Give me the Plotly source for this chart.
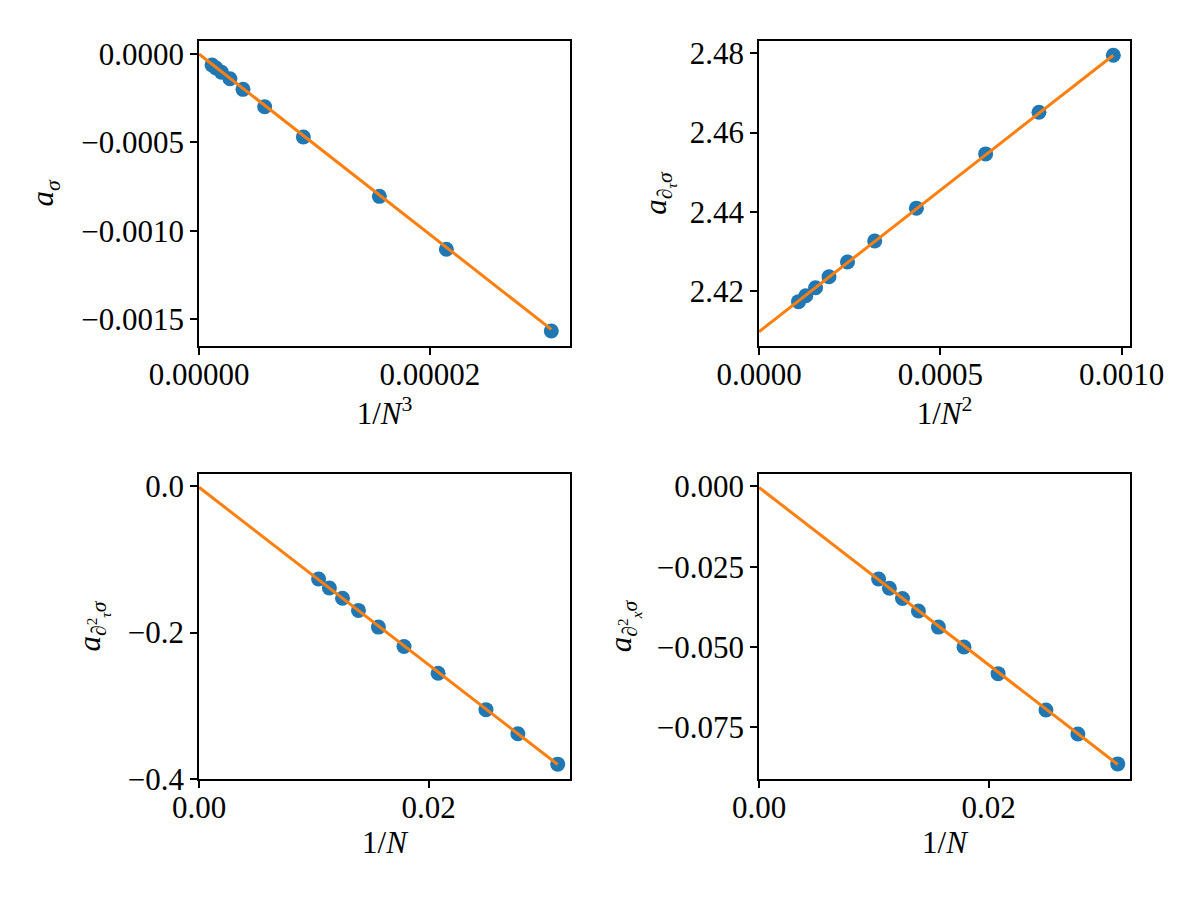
import plotly.graph_objects as go
from plotly.subplots import make_subplots

# ---- data ----
x_inv_N3 = [3.052e-5, 2.143e-5, 1.5625e-5, 9.04e-6, 5.69e-6, 3.81e-6, 2.68e-6, 1.95e-6, 1.47e-6, 1.13e-6]
y_sigma = [-0.001566, -0.001104, -0.000805, -0.000469, -0.000298, -0.000200, -0.000140, -0.000103, -0.000079, -0.000062]
fit_x_N3 = [0.0, 3.052e-5]
fit_y_sigma = [0.0, -0.001557]

x_inv_N2 = [0.000977, 0.000772, 0.000625, 0.000434, 0.000319, 0.000244, 0.000193, 0.000156, 0.000129, 0.000109]
y_dtau = [2.4795, 2.4651, 2.4546, 2.4409, 2.4326, 2.4273, 2.4236, 2.4208, 2.4188, 2.4173]
fit_x_N2 = [0.0, 0.000977]
fit_y_dtau = [2.4097, 2.4795]

x_inv_N = [0.03125, 0.02778, 0.025, 0.02083, 0.01786, 0.01563, 0.01389, 0.0125, 0.01136, 0.01042]
y_dtau2 = [-0.380, -0.3383, -0.3054, -0.2556, -0.2190, -0.1925, -0.1696, -0.1531, -0.1390, -0.1266]
fit_x_N = [0.0, 0.03125]
fit_y_dtau2 = [-0.0012, -0.3805]

y_dx2 = [-0.0864, -0.0771, -0.0696, -0.0583, -0.0500, -0.0438, -0.0388, -0.0349, -0.0317, -0.0288]
fit_y_dx2 = [-0.0003, -0.0866]

BLUE = "#1f77b4"
ORANGE = "#ff7f0e"
FONT = "Liberation Serif"
FS = 31

fig = make_subplots(rows=2, cols=2)

panels = [
    (1, 1, x_inv_N3, y_sigma, fit_x_N3, fit_y_sigma),
    (1, 2, x_inv_N2, y_dtau, fit_x_N2, fit_y_dtau),
    (2, 1, x_inv_N, y_dtau2, fit_x_N, fit_y_dtau2),
    (2, 2, x_inv_N, y_dx2, fit_x_N, fit_y_dx2),
]
for r, c, xs, ys, fx, fy in panels:
    fig.add_trace(go.Scatter(x=xs, y=ys, mode="markers",
                             marker=dict(color=BLUE, size=15, line=dict(width=0)),
                             showlegend=False), row=r, col=c)
    fig.add_trace(go.Scatter(x=fx, y=fy, mode="lines",
                             line=dict(color=ORANGE, width=3),
                             showlegend=False), row=r, col=c)

common = dict(showline=True, mirror=True, linecolor="black", linewidth=1.5,
              ticks="outside", ticklen=7, tickwidth=1.5, tickcolor="black",
              showgrid=False, zeroline=False, automargin=False,
              tickfont=dict(family=FONT, size=FS, color="black"),
              title_font=dict(family=FONT, size=FS, color="black"))

xd_left = [199 / 1200, 570 / 1200]
xd_right = [759 / 1200, 1130 / 1200]
yd_top = [1 - 346 / 900, 1 - 41 / 900]
yd_bot = [1 - 779 / 900, 1 - 474 / 900]

fig.update_xaxes(common)
fig.update_yaxes(common)
fig.update_xaxes(ticklabelstandoff=-7)

# top-left
fig.update_xaxes(domain=xd_left, range=[0, 3.214e-5], tickvals=[0, 2e-5],
                 tickformat=".5f", title=dict(text="1/<i>N</i><sup>3</sup>", standoff=0), row=1, col=1)
fig.update_yaxes(domain=yd_top, range=[-0.001651, 0.0000735], dtick=0.0005, tickformat=".4f",
                 title=dict(text="<i>a</i><sub><i>σ</i></sub>", standoff=18), row=1, col=1)
# top-right
fig.update_xaxes(domain=xd_right, range=[0, 0.001023], dtick=0.0005, tickformat=".4f",
                 title=dict(text="1/<i>N</i><sup>2</sup>", standoff=0), row=1, col=2)
fig.update_yaxes(domain=yd_top, range=[2.4061, 2.4831], dtick=0.02, tickformat=".2f",
                 title=dict(text="<i>a</i><sub>∂<sub><i>τ</i></sub><i>σ</i></sub>", standoff=14), row=1, col=2)
# bottom-left
fig.update_xaxes(domain=xd_left, range=[0, 0.03232], dtick=0.02, tickformat=".2f",
                 title=dict(text="1/<i>N</i>", standoff=0), row=2, col=1)
fig.update_yaxes(domain=yd_bot, range=[-0.4003, 0.017], dtick=0.2, tickformat=".1f",
                 title=dict(text="<i>a</i><sub>∂<sup>2</sup><sub><i>τ</i></sub><i>σ</i></sub>", standoff=18), row=2, col=1)
# bottom-right
fig.update_xaxes(domain=xd_right, range=[0, 0.03232], dtick=0.02, tickformat=".2f",
                 title=dict(text="1/<i>N</i>", standoff=0), row=2, col=2)
fig.update_yaxes(domain=yd_bot, range=[-0.0911, 0.00388], dtick=0.025, tickformat=".3f",
                 title=dict(text="<i>a</i><sub>∂<sup>2</sup><sub><i>x</i></sub><i>σ</i></sub>", standoff=16), row=2, col=2)

fig.update_layout(width=1200, height=900, margin=dict(l=0, r=0, t=0, b=0),
                  plot_bgcolor="white", paper_bgcolor="white",
                  font=dict(family=FONT, size=FS, color="black"))

fig.write_html("out.html")
